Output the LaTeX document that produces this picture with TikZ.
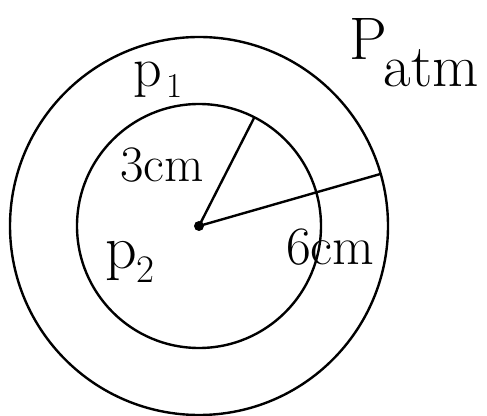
\documentclass[tikz,border=0pt]{standalone}
\usepackage{fontspec}
\usetikzlibrary{positioning}

\begin{document}
\begin{tikzpicture}[x=1pt, y=1pt,
  ring/.style={draw, circle, line width=2.4pt, inner sep=0pt, outer sep=0pt},
  dot/.style={fill, circle, inner sep=0pt, minimum size=10pt},
  radius line/.style={line width=2.4pt},
  lbl/.style={anchor=base west, inner sep=0pt, font=\fontsize{51}{51}\selectfont}
]
  \useasboundingbox (0,0) rectangle (487,415);

  \node[ring, minimum size=378pt] (outer) at (199,189) {};
  \node[ring, minimum size=244pt] (inner) at (199,189) {};
  \node[dot] (ctr) at (199,189) {};

  \draw[radius line] (ctr.center) -- (inner.63);
  \draw[radius line] (ctr.center) -- (outer.16);

  \node[lbl, font=\fontsize{60}{60}\selectfont] (patm) at (349,355) {P\kern-3pt\raisebox{-27pt}{atm}};
  \node[lbl, font=\fontsize{56}{56}\selectfont] (p1) at (133,328) {p\hspace{5pt}\raisebox{-11pt}{\fontsize{35}{35}\selectfont 1}};
  \node[lbl, font=\fontsize{62}{62}\selectfont] (p2) at (105,146) {p\hspace{0pt}\raisebox{-14pt}{\fontsize{39}{39}\selectfont 2}};
  \node[lbl] (r3) at (120,233) {3cm};
  \node[lbl, font=\fontsize{54}{54}\selectfont] (r6) at (286,150) {6cm};
\end{tikzpicture}
\end{document}
